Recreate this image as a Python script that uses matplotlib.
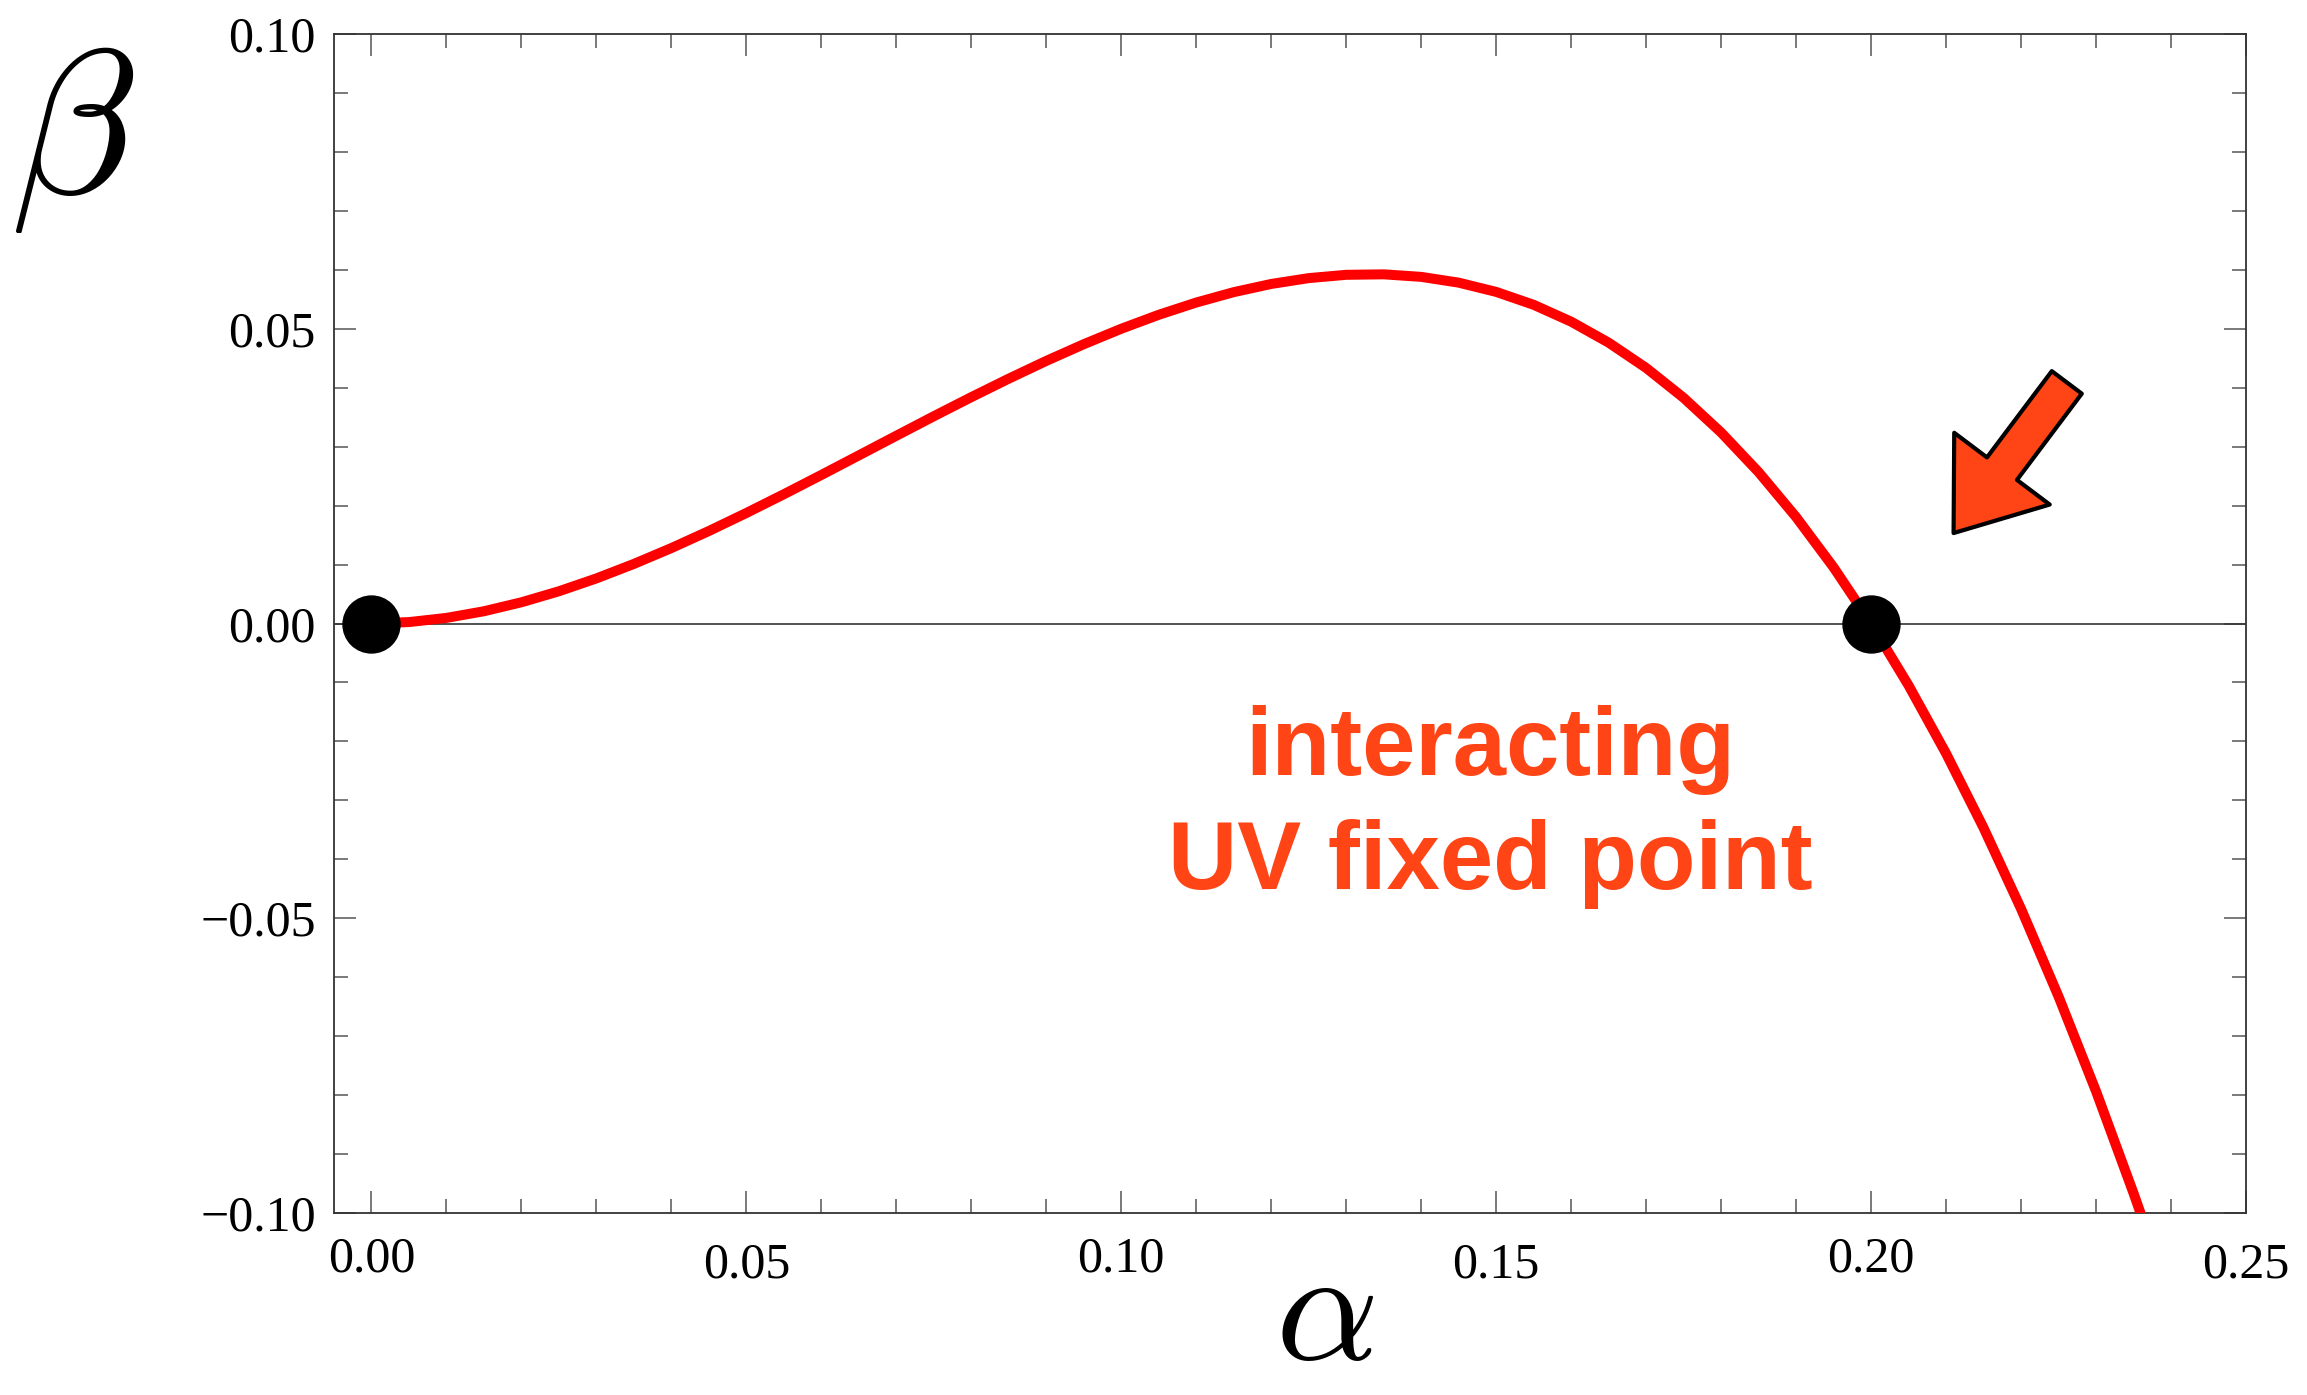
import matplotlib
matplotlib.use("Agg")
import matplotlib.pyplot as plt
from matplotlib.patches import FancyArrowPatch, ArrowStyle
from matplotlib.ticker import MultipleLocator

# ---- data ----
alpha = [0.000, 0.005, 0.010, 0.015, 0.020, 0.025, 0.030, 0.035, 0.040, 0.045,
         0.050, 0.055, 0.060, 0.065, 0.070, 0.075, 0.080, 0.085, 0.090, 0.095,
         0.100, 0.105, 0.110, 0.115, 0.120, 0.125, 0.130, 0.135, 0.140, 0.145,
         0.150, 0.155, 0.160, 0.165, 0.170, 0.175, 0.180, 0.185, 0.190, 0.195,
         0.200, 0.205, 0.210, 0.215, 0.220, 0.225, 0.230, 0.235, 0.2365]
beta = [0.0, 0.00024, 0.00095, 0.00208, 0.0036, 0.00547, 0.00765, 0.01011, 0.0128, 0.01569,
        0.01875, 0.02193, 0.0252, 0.02852, 0.03185, 0.03516, 0.0384, 0.04154, 0.04455, 0.04738,
        0.05, 0.05237, 0.05445, 0.05621, 0.0576, 0.05859, 0.05915, 0.05923, 0.0588, 0.05782,
        0.05625, 0.05406, 0.0512, 0.04764, 0.04335, 0.03828, 0.0324, 0.02567, 0.01805, 0.00951,
        0.0, -0.01051, -0.02205, -0.03467, -0.0484, -0.06328, -0.07935, -0.09664, -0.10208]
fixed_alpha = [0.0, 0.2]
fixed_beta = [0.0, 0.0]
xticks = [0.00, 0.05, 0.10, 0.15, 0.20, 0.25]
xtick_labels = ["0.00", "0.05", "0.10", "0.15", "0.20", "0.25"]
yticks = [-0.10, -0.05, 0.00, 0.05, 0.10]
ytick_labels = ["\u22120.10", "\u22120.05", "0.00", "0.05", "0.10"]
annot_lines = ["interacting", "UV fixed point"]

RED = "#FF0000"
ORANGE = "#FF4416"
FRAME = "#333333"
TICK = "#555555"

plt.rcParams["mathtext.fontset"] = "cm"

fig = plt.figure(figsize=(23.07, 13.95), dpi=100)
ax = fig.add_axes([334 / 2307, 1 - 1213 / 1395, 1912 / 2307, 1179 / 1395])

ax.set_xlim(-0.005, 0.25)
ax.set_ylim(-0.10, 0.10)

ax.axhline(0, color=FRAME, lw=1.2, zorder=2)
ax.plot(alpha, beta, color=RED, lw=7.2, solid_capstyle="butt",
        solid_joinstyle="round", zorder=3)
ax.plot(fixed_alpha, fixed_beta, "o", color="black", ms=41, zorder=4, clip_on=False)

# ticks
ax.set_xticks(xticks)
ax.set_xticklabels([])
ax.set_yticks(yticks)
ax.set_yticklabels(ytick_labels, fontfamily="Liberation Serif", fontsize=36)
ax.xaxis.set_minor_locator(MultipleLocator(0.01))
ax.yaxis.set_minor_locator(MultipleLocator(0.01))
ax.tick_params(which="both", direction="in", top=True, right=True, color=TICK, width=1.1)
ax.tick_params(which="major", length=16)
ax.tick_params(which="minor", length=10)
ax.tick_params(axis="y", which="major", pad=13)
for s in ax.spines.values():
    s.set_color(FRAME)
    s.set_linewidth(1.3)

# staggered x tick labels (Mathematica style)
xt = ax.get_xaxis_transform()
for i, (v, lab) in enumerate(zip(xticks, xtick_labels)):
    ybase = -0.0492 if i % 2 == 0 else -0.0551
    ax.text(v, ybase, lab, transform=xt, ha="center", va="baseline",
            fontfamily="Liberation Serif", fontsize=36, clip_on=False)

# axis labels
ax.set_xlabel(r"$\alpha$", fontsize=116, va="bottom", ha="center")
ax.xaxis.set_label_coords(0.5183, -0.1515)
ax.set_ylabel(r"$\beta$", fontsize=148, rotation=0, va="baseline", ha="center")
ax.yaxis.set_label_coords(-0.1365, 0.8651)

# annotation text
ax.text(0.1492, -0.02568, annot_lines[0], ha="center", va="baseline", color=ORANGE,
        fontfamily="Liberation Sans", fontweight="bold", fontsize=69, zorder=5)
ax.text(0.1492, -0.04500, annot_lines[1], ha="center", va="baseline", color=ORANGE,
        fontfamily="Liberation Sans", fontweight="bold", fontsize=69, zorder=5)

# arrow pointing to the UV fixed point
arrow = FancyArrowPatch((0.2261, 0.0409), (0.2110, 0.01534),
                        arrowstyle=ArrowStyle.Simple(head_length=58, head_width=86, tail_width=27),
                        mutation_scale=1, shrinkA=0, shrinkB=0,
                        facecolor=ORANGE, edgecolor="black", lw=3, zorder=6,
                        transform=ax.transData, clip_on=False)
ax.add_patch(arrow)

fig.savefig("out.png", dpi=100)
